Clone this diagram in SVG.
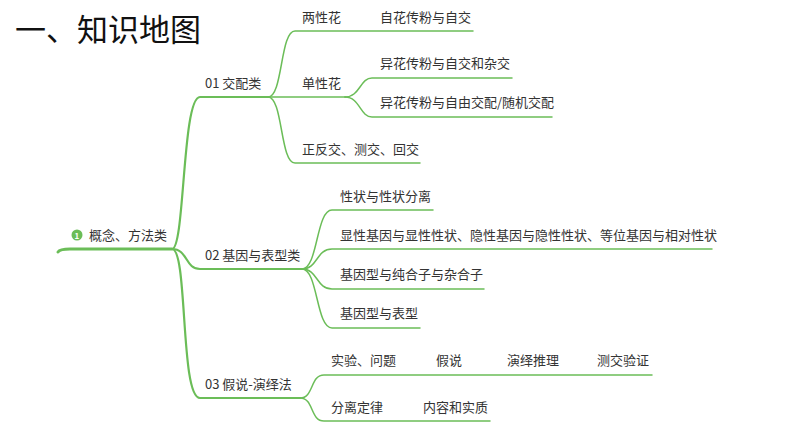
<svg xmlns="http://www.w3.org/2000/svg" width="794" height="447" viewBox="0 0 794 447">
<style>
text{font-family:"Noto Sans CJK SC","Liberation Sans",sans-serif;font-size:13px;fill:#333}
.l{fill:none;stroke:#6bbd58;stroke-linecap:round}
.a{stroke-width:3}.b{stroke-width:2.2}.c{stroke-width:1.5}
</style>
<rect width="794" height="447" fill="#fff"/>
<text x="15" y="41" style="font-size:31px;fill:#111">一、知识地图</text>
<g id="connectors">
<path class="l a" d="M58,252 Q60,249 70,249 L172,249"/>
<path class="l b" d="M172,249 C185,249 182,97 200,97 L268,97"/>
<path class="l b" d="M172,249 C188,249 185,269 200,269 L302,269"/>
<path class="l b" d="M172,249 C188,249 180,398 200,398 L300,398"/>
<path class="l c" d="M268,97 C283,97 280,31 295,31 L473,31"/>
<path class="l c" d="M268,97 L345,97"/>
<path class="l c" d="M268,97 C283,97 280,163 295,163 L420,163"/>
<path class="l c" d="M345,97 C360,97 360,78 372,78 L512,78"/>
<path class="l c" d="M345,97 C360,97 360,117 372,117 L552,117"/>
<path class="l c" d="M302,269 C318,269 316,210 332,210 L433,210"/>
<path class="l c" d="M302,269 C318,269 316,249 332,249 L712,249"/>
<path class="l c" d="M302,269 C318,269 316,289 332,289 L484,289"/>
<path class="l c" d="M302,269 C318,269 316,328 332,328 L420,328"/>
<path class="l c" d="M300,398 C314,398 310,375 324,375 L652,375"/>
<path class="l c" d="M300,398 C314,398 310,421 324,421 L490,421"/>
</g>
<g id="root"><circle cx="77" cy="235" r="5.5" fill="#6bbd58"/><text x="74.5" y="238.5" style="font-size:8px;fill:#fff;font-weight:bold">1</text><text x="89" y="240">概念、方法类</text></g>
<g id="n01"><text x="205" y="88">01 交配类</text></g>
<g id="n02"><text x="205" y="260">02 基因与表型类</text></g>
<g id="n03"><text x="205" y="389">03 假说-演绎法</text></g>
<g id="n011"><text x="302" y="22">两性花</text></g>
<g id="n0111"><text x="380" y="22">自花传粉与自交</text></g>
<g id="n012"><text x="302" y="88">单性花</text></g>
<g id="n0121"><text x="380" y="68">异花传粉与自交和杂交</text></g>
<g id="n0122"><text x="380" y="107">异花传粉与自由交配/随机交配</text></g>
<g id="n013"><text x="302" y="154">正反交、测交、回交</text></g>
<g id="n021"><text x="340" y="201">性状与性状分离</text></g>
<g id="n022"><text x="340" y="240">显性基因与显性性状、隐性基因与隐性性状、等位基因与相对性状</text></g>
<g id="n023"><text x="340" y="279">基因型与纯合子与杂合子</text></g>
<g id="n024"><text x="340" y="318">基因型与表型</text></g>
<g id="n031"><text x="331" y="365">实验、问题</text></g>
<g id="n032"><text x="436" y="365">假说</text></g>
<g id="n033"><text x="507" y="365">演绎推理</text></g>
<g id="n034"><text x="597" y="365">测交验证</text></g>
<g id="n035"><text x="331" y="412">分离定律</text></g>
<g id="n036"><text x="423" y="412">内容和实质</text></g>
</svg>
